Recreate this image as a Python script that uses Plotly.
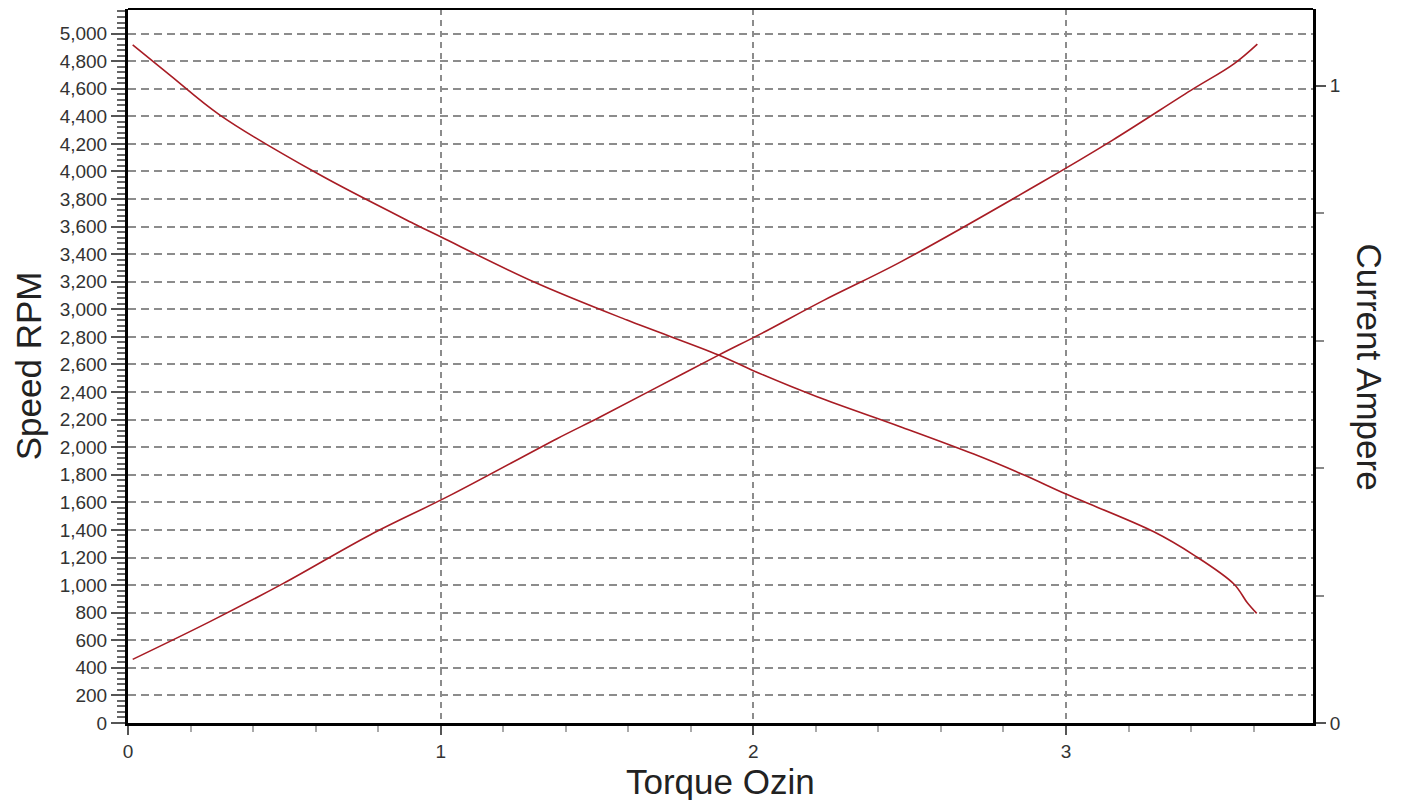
import plotly.graph_objects as go

# Speed curve (left axis, RPM)
torque_speed = [0.015, 0.134, 0.294, 0.609, 0.913, 1.0, 1.297, 1.596, 1.889, 2.0, 2.204, 2.470, 2.705, 2.866, 3.0, 3.281, 3.409, 3.537, 3.580, 3.610]
speed_rpm = [4917, 4699, 4409, 3981, 3623, 3526, 3200, 2922, 2669, 2555, 2366, 2149, 1950, 1798, 1660, 1387, 1218, 1008, 872, 795]

# Current curve (right axis, Ampere)
torque_current = [0.015, 0.262, 0.497, 0.774, 1.030, 1.372, 1.510, 1.670, 1.889, 2.022, 2.225, 2.470, 2.918, 3.148, 3.398, 3.537, 3.612]
current_amp = [0.0998, 0.159, 0.219, 0.295, 0.357, 0.446, 0.480, 0.521, 0.577, 0.610, 0.663, 0.723, 0.847, 0.914, 0.992, 1.034, 1.065]

x_title = "Torque Ozin"
y_title = "Speed RPM"
y2_title = "Current Ampere"

LINE = "#A81C24"
GRID = "#8c8c8c"
TICKFONT = dict(family="Arial, Liberation Sans, sans-serif", size=19, color="#333333")
TITLEFONT = dict(family="Arial, Liberation Sans, sans-serif", size=35, color="#222222")

fig = go.Figure()
fig.add_trace(go.Scatter(x=torque_speed, y=speed_rpm, mode="lines",
                         line=dict(color=LINE, width=1.6, shape="spline", smoothing=1.0),
                         yaxis="y", showlegend=False))
fig.add_trace(go.Scatter(x=torque_current, y=current_amp, mode="lines",
                         line=dict(color=LINE, width=1.6, shape="spline", smoothing=1.0),
                         yaxis="y2", showlegend=False))

# page body has an 8px margin, so the figure is sized to fit inside the window
fig.update_layout(
    width=1394, height=792,
    margin=dict(l=120, r=89, t=1, b=77),
    paper_bgcolor="white", plot_bgcolor="white",
    xaxis=dict(
        range=[0, 3.79], dtick=1, tick0=0,
        ticks="outside", ticklen=9, tickwidth=1.5, tickcolor="#555555",
        tickfont=TICKFONT,
        showgrid=True, gridcolor=GRID, gridwidth=1.5, griddash="6px,5px",
        zeroline=False,
        showline=True, linecolor="black", linewidth=3,
        minor=dict(dtick=0.2, ticks="outside", ticklen=6, tickcolor="#aaaaaa", showgrid=False),
    ),
    yaxis=dict(
        range=[0, 5178], dtick=200, tick0=0, tickformat=",d",
        ticks="outside", ticklen=14, tickwidth=1.5, tickcolor="#555555",
        tickfont=TICKFONT,
        showgrid=True, gridcolor=GRID, gridwidth=1.5, griddash="8px,5px",
        zeroline=False,
        showline=True, linecolor="black", linewidth=3,
        minor=dict(dtick=40, ticks="outside", ticklen=8, tickcolor="#666666", showgrid=False),
    ),
    yaxis2=dict(
        overlaying="y", side="right",
        range=[0, 1.120], dtick=1, tick0=0,
        ticks="outside", ticklen=10, tickwidth=1.5, tickcolor="#555555",
        tickfont=TICKFONT,
        showgrid=False, zeroline=False,
        showline=True, linecolor="black", linewidth=3,
        minor=dict(dtick=0.2, ticks="outside", ticklen=8, tickcolor="#888888", showgrid=False),
    ),
    shapes=[dict(type="line", xref="paper", yref="paper", x0=0, x1=1, y0=1, y1=1,
                 line=dict(color="black", width=2))],
    annotations=[
        dict(text=x_title, xref="paper", yref="paper", x=0.5, y=-0.082,
             xanchor="center", yanchor="middle", showarrow=False, font=TITLEFONT),
        dict(text=y_title, xref="paper", yref="paper", x=-0.0844, y=0.501,
             xanchor="center", yanchor="middle", textangle=-90, showarrow=False, font=TITLEFONT),
        dict(text=y2_title, xref="paper", yref="paper", x=1.048, y=0.498,
             xanchor="center", yanchor="middle", textangle=90, showarrow=False, font=TITLEFONT),
    ],
)

fig.write_html("out.html")
